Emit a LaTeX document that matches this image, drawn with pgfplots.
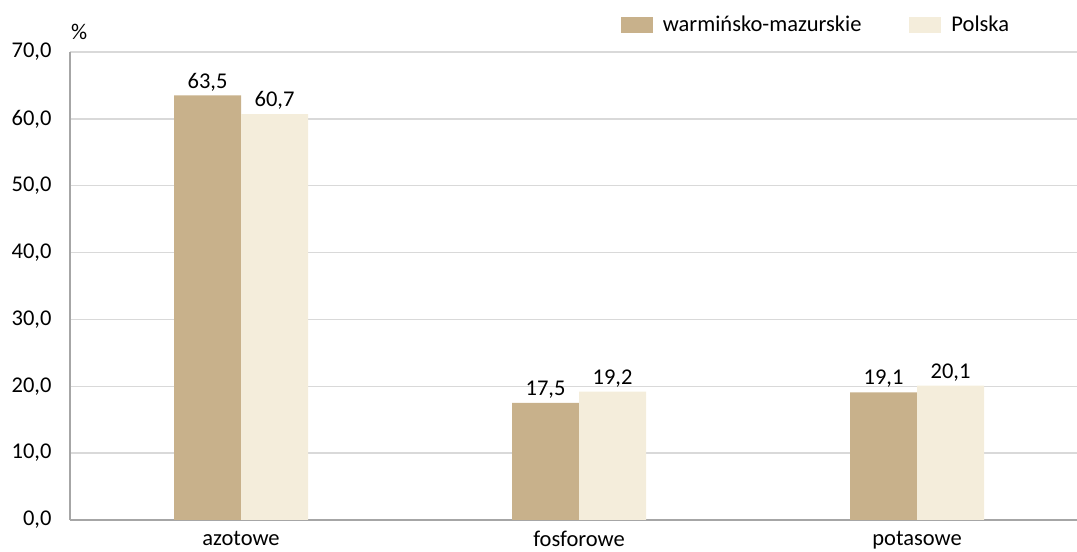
\documentclass[border=0pt]{standalone}
\usepackage{fontspec}
\setmainfont{Carlito}
\usepackage{pgfplots}
\pgfplotsset{compat=1.18}
\definecolor{wm}{HTML}{C8B18B}
\definecolor{pl}{HTML}{F4EDDB}
\definecolor{gridc}{HTML}{D9D9D9}
\definecolor{axc}{HTML}{A6A6A6}
\newcommand{\lbl}{\fontsize{22.5}{27}\selectfont}

\begin{document}
\begin{tikzpicture}
\begin{axis}[
    name=ax,
    width=1016pt, height=468pt, scale only axis,
    ybar=0pt, bar width=67pt,
    xmin=-0.506, xmax=2.5, ymin=0, ymax=70,
    enlarge x limits=false,
    xtick=data,
    xticklabels={azotowe,fosforowe,potasowe},
    ytick={0,10,...,70},
    axis x line=bottom, axis y line=left,
    axis line style={axc, line width=1.5pt, -},
    ymajorgrids, grid style={gridc, line width=1.5pt},
    major tick length=0pt,
    tick label style={font=\lbl, black},
    xticklabel style={yshift=-8pt},
    yticklabel style={xshift=-15pt, /pgf/number format/.cd, fixed, fixed zerofill, precision=1, use comma, assume math mode=true},
    nodes near coords={\pgfmathprintnumber[fixed,fixed zerofill,precision=1,use comma,assume math mode=true]{\pgfplotspointmeta}},
    every node near coord/.append style={font=\lbl, black, yshift=1pt},
    legend style={draw=none, fill=none, legend columns=2, at={(0.539,1.058)}, anchor=west,
        font=\lbl,
        /tikz/every odd column/.append style={column sep=8pt},
        /tikz/every even column/.append style={column sep=46pt}},
    legend image code/.code={\fill[#1] (0pt,-8pt) rectangle (32pt,8pt);},
]
\addplot[fill=wm, draw=none] coordinates {(0,63.5) (1,17.5) (2,19.1)};
\addplot[fill=pl, draw=none] coordinates {(0,60.7) (1,19.2) (2,20.1)};
\legend{warmińsko-mazurskie, Polska}
\end{axis}
\node[anchor=base west, font=\lbl, inner sep=0pt] at ([xshift=1pt, yshift=12pt]ax.north west) {\%};
\pgfresetboundingbox
\path ([xshift=-70pt,yshift=-32pt]ax.south west) rectangle ([xshift=1007pt,yshift=52pt]ax.north west);
\end{tikzpicture}
\end{document}
